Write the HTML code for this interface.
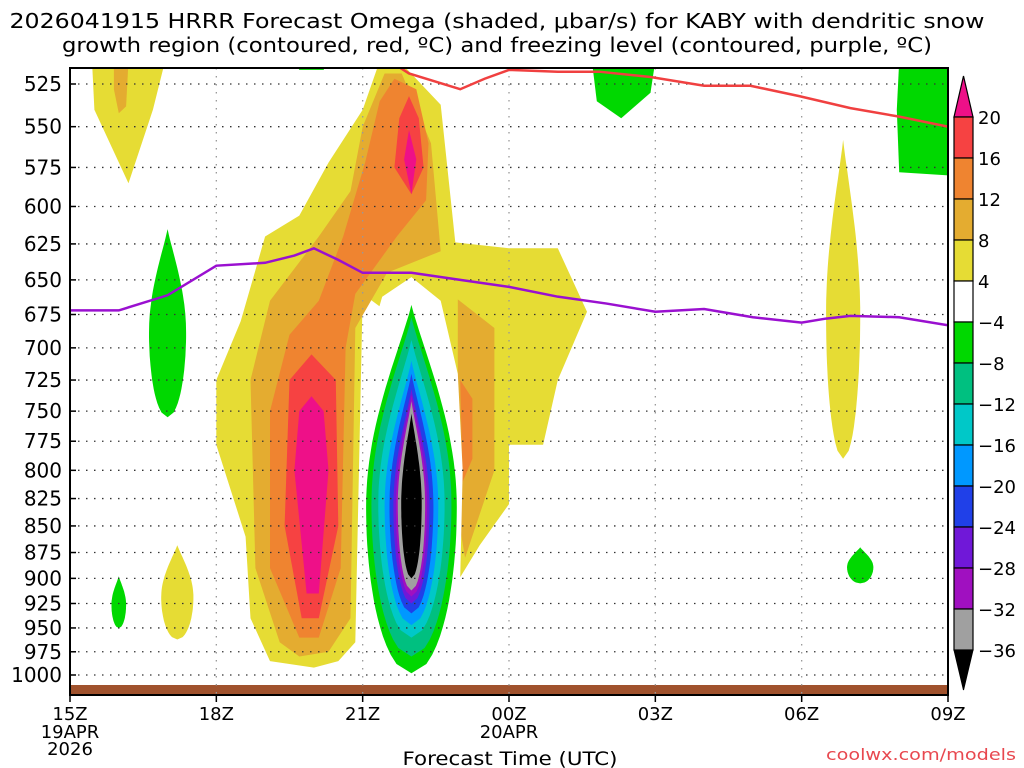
<!DOCTYPE html>
<html><head><meta charset="utf-8"><style>
body{margin:0;background:#fff;}
svg{display:block;font-family:"DejaVu Sans","Liberation Sans",sans-serif;}
</style></head><body>
<svg id="chart" width="1024" height="768" xmlns="http://www.w3.org/2000/svg">
<text x="497" y="28" text-anchor="middle" font-size="20" textLength="975" lengthAdjust="spacingAndGlyphs">2026041915 HRRR Forecast Omega (shaded, μbar/s) for KABY with dendritic snow</text>
<text x="497" y="52" text-anchor="middle" font-size="20" textLength="870" lengthAdjust="spacingAndGlyphs">growth region (contoured, red, ºC) and freezing level (contoured, purple, ºC)</text>
<g id="fills"></g><g id="grid"></g><g id="lines"></g><g id="axes"></g><g id="cbar"></g>
<text x="510" y="765" text-anchor="middle" font-size="19" textLength="215" lengthAdjust="spacingAndGlyphs">Forecast Time (UTC)</text>
<text x="1016" y="760" text-anchor="end" font-size="16" fill="#e8484f" textLength="190" lengthAdjust="spacingAndGlyphs">coolwx.com/models</text>
</svg>
<script>
const pressureTicks=[525,550,575,600,625,650,675,700,725,750,775,800,825,850,875,900,925,950,975,1000];
const hourTicks=[0,3,6,9,12,15,18];
const hourLabels=["15Z","18Z","21Z","00Z","03Z","06Z","09Z"];
const levels=[20,16,12,8,4,-4,-8,-12,-16,-20,-24,-28,-32,-36];
const levelColors={"-36":"#000000","-32":"#a0a0a0","-28":"#a010c0","-24":"#7018d8","-20":"#2040e8","-16":"#0098ff","-12":"#00c8c8","-8":"#00c080","-4":"#00d800","0":"#ffffff","4":"#e6dc34","8":"#e4ac30","12":"#ef8430","16":"#f64242","20":"#ee1088"};
// polygons: [level, [[hour,hPa],...]]
const polyLevels=[4,4,8,8,12,12,16,16,20,20,0,4,8,-4,-4,-4];
const polyPoints=[
 [[4.1,985],[3.7,940],[3.6,860],[3.0,778],[3.0,725],[3.5,680],[4.0,620],[4.7,606],[5.3,572],[6.0,540],[6.35,512],[6.75,512],[7.6,537],[7.9,624],[9,628],[10,628],[10.6,673],[10,725],[9.7,778],[9,778],[9,830],[8.4,868],[8.0,899],[7.5,700],[6.0,660],[5.85,965],[5.5,985],[5.0,992]],
 [[0.45,512],[1.95,512],[1.7,540],[1.2,585],[0.5,540]],
 [[4.3,965],[3.8,890],[3.7,725],[4.1,665],[5.1,620],[5.75,590],[6.0,550],[6.45,519],[6.8,519],[7.4,560],[7.6,630],[6.5,645],[5.85,685],[5.75,940],[5.3,975],[4.7,980]],
 [[7.95,664],[8.7,685],[8.7,800],[8.1,880],[7.95,840]],
 [[4.7,960],[4.1,890],[4.1,750],[4.5,690],[5.1,665],[5.6,620],[6.05,572],[6.35,535],[6.65,522],[7.1,528],[7.35,560],[7.3,596],[6.7,620],[5.85,660],[5.65,700],[5.55,890],[5.1,960]],
 [[8.0,725],[8.25,740],[8.25,790],[8.05,810]],
 [[4.75,940],[4.4,850],[4.5,725],[4.95,705],[5.45,725],[5.5,850],[5.1,940]],
 [[6.65,575],[6.75,545],[6.95,532],[7.15,545],[7.25,575],[7.0,592]],
 [[4.85,915],[4.6,800],[4.7,750],[4.95,738],[5.2,750],[5.3,800],[5.1,915]],
 [[7.0,592],[6.85,570],[6.95,552],[7.1,570]],
 [[7.0,648],[7.6,665],[7.95,720],[8.05,800],[8.0,900],[7.6,995],[7.0,1005],[6.4,995],[6.0,900],[5.95,790],[6.1,700],[6.4,662]],
 [[0.9,512],[1.2,512],[1.15,540],[1.0,545],[0.9,530]],
 [[0.9,512],[1.2,512],[1.15,538],[1.0,542],[0.9,528]],
 [[4.6,512],[5.3,512],[5.2,517],[4.7,517]],
 [[10.7,512],[12,512],[11.9,530],[11.3,545],[10.8,535]],
 [[17,512],[18,512],[18,580],[17,578],[16.95,540]]
];
// lens-shaped features: [level, centerHour, halfWidthHours, topHPa, bottomHPa]
const lensLevel=[-4,-4,4,4,-4,-4,-8,-12,-16,-20,-24,-28,-32,-36];
const lensHour=[2.0,1.0,2.2,15.85,16.2,7.0,7.0,7.0,7.0,7.0,7.0,7.0,7.0,7.0];
const lensHalf=[0.38,0.15,0.33,0.35,0.27,0.93,0.82,0.68,0.55,0.45,0.37,0.32,0.28,0.21];
const lensTop=[615,898,868,558,870,668,677,694,710,720,732,737,742,752];
const lensBottom=[755,950,962,790,905,998,980,960,947,935,925,918,912,900];
// dendritic growth region (red) and freezing level (purple)
const redHours=[6.55,6.95,8,8.5,9,10,10.85,11.9,13,13.95,14.95,16,17,18];
const redP=[512,519,528,522,517,518,518,521,526,526,532,539,544,550];
const purpleHours=[0,1,2,3,4,4.6,5,5.5,6,7,8,9,10,11,12,13,14,15,15.5,16,17,18];
const purpleP=[672,672,661,640,638,633,628,636,645,645,650,655,662,667,673,671,677,681,678,676,677,683];

const NS="http://www.w3.org/2000/svg";
const X0=70,X1=948,Y525=84,Y1000=675,YT=68,YB=695;
const x=h=>X0+(X1-X0)*h/18;
const y=p=>Y525+(Math.log(p/525)/Math.log(1000/525))*(Y1000-Y525);
const colorOf=l=>levelColors[String(l)];
function mk(tag,attrs,parent){const e=document.createElementNS(NS,tag);for(const k in attrs)e.setAttribute(k,attrs[k]);parent.appendChild(e);return e;}
const fills=document.getElementById('fills');
const clip=mk('clipPath',{id:'plotclip'},document.getElementById('chart'));
mk('rect',{x:X0,y:YT,width:X1-X0,height:YB-YT},clip);
fills.setAttribute('clip-path','url(#plotclip)');
const items=[];
polyPoints.forEach((pts,i)=>items.push({lv:polyLevels[i],d:'M'+pts.map(q=>x(q[0]).toFixed(1)+','+y(q[1]).toFixed(1)).join('L')+'Z'}));
lensHour.forEach((h,i)=>{
  const yt=y(lensTop[i]),yb=y(lensBottom[i]),hw=x(lensHalf[i])-x(0),xc=x(h);
  const L=[],R=[];
  for(let k=0;k<=40;k++){const f=k/40;const yy=yt+(yb-yt)*f;
    // pointed top, rounder bottom; widest ~55% down
    const u=f<0.55?f/0.55:1;const w=f<0.55?hw*Math.pow(Math.sin(u*Math.PI/2),1.1):hw*Math.sqrt(Math.max(0,1-Math.pow((f-0.55)/0.45,2)));
    L.push([xc-w,yy]);R.unshift([xc+w,yy]);}
  items.push({lv:lensLevel[i],d:'M'+L.concat(R).map(q=>q[0].toFixed(1)+','+q[1].toFixed(1)).join('L')+'Z'});
});
items.forEach(it=>{
  const e=mk('path',{d:it.d,fill:colorOf(it.lv)},fills);
  
  
});
const g=mk('rect',{x:X0,y:685,width:X1-X0,height:10,fill:'#a0522d'},fills);


const grid=document.getElementById('grid');
pressureTicks.forEach(p=>{
  const l=mk('line',{x1:X0,x2:X1,y1:y(p),y2:y(p),stroke:'#333','stroke-dasharray':'1.5,6.5','stroke-width':1.3},grid);
  
  
});
hourTicks.slice(1,-1).forEach(h=>{
  const l=mk('line',{x1:x(h),x2:x(h),y1:YT,y2:YB,stroke:'#999','stroke-dasharray':'1.5,6.5','stroke-width':1.3},grid);
  
  
});
const lines=document.getElementById('lines');
lines.setAttribute('clip-path','url(#plotclip)');
const rl=mk('polyline',{points:redHours.map((h,i)=>x(h)+','+y(redP[i])).join(' '),fill:'none',stroke:'#f04040','stroke-width':2.5},lines);


const pl=mk('polyline',{points:purpleHours.map((h,i)=>x(h)+','+y(purpleP[i])).join(' '),fill:'none',stroke:'#9a10d0','stroke-width':2.5},lines);


const ax=document.getElementById('axes');
const fr=mk('rect',{x:X0,y:YT,width:X1-X0,height:YB-YT,fill:'none',stroke:'#000','stroke-width':2},ax);


pressureTicks.forEach(p=>{
  const t=mk('text',{x:62,y:y(p)+7,'text-anchor':'end','font-size':20},ax);t.textContent=p;
  
  
  mk('line',{x1:X0,x2:X0+6,y1:y(p),y2:y(p),stroke:'#000','stroke-width':1.5},ax);
});
hourTicks.forEach((h,i)=>{
  mk('line',{x1:x(h),x2:x(h),y1:YB,y2:YB+7,stroke:'#000','stroke-width':1.5},ax);
  const t=mk('text',{x:x(h),y:720,'text-anchor':'middle','font-size':18},ax);t.textContent=hourLabels[i];
  
  
});
[["19APR",738,x(0)],["2026",755,x(0)],["20APR",738,x(9)]].forEach(a=>{
  const t=mk('text',{x:a[2],y:a[1],'text-anchor':'middle','font-size':18},ax);t.textContent=a[0];
  
  
});
const cb=document.getElementById('cbar');
const CX=954,CW=19,CY0=117,CS=41;
const tri=mk('path',{d:`M${CX},${CY0}L${CX+CW/2},76L${CX+CW},${CY0}Z`,fill:colorOf(20),stroke:'#000','stroke-width':1.2},cb);


const bands=[16,12,8,4,0,-4,-8,-12,-16,-20,-24,-28,-32];
bands.forEach((lv,i)=>{
  const r=mk('rect',{x:CX,y:CY0+i*CS,width:CW,height:CS,fill:colorOf(lv),stroke:'#000','stroke-width':1.2},cb);
  
  
});
const tri2=mk('path',{d:`M${CX},${CY0+13*CS}L${CX+CW/2},690L${CX+CW},${CY0+13*CS}Z`,fill:'#000',stroke:'#000'},cb);


levels.forEach((lv,i)=>{
  const t=mk('text',{x:978,y:CY0+i*CS+7,'font-size':18},cb);t.textContent=lv<0?'−'+(-lv):lv;
  
  
});
</script>
</body></html>
